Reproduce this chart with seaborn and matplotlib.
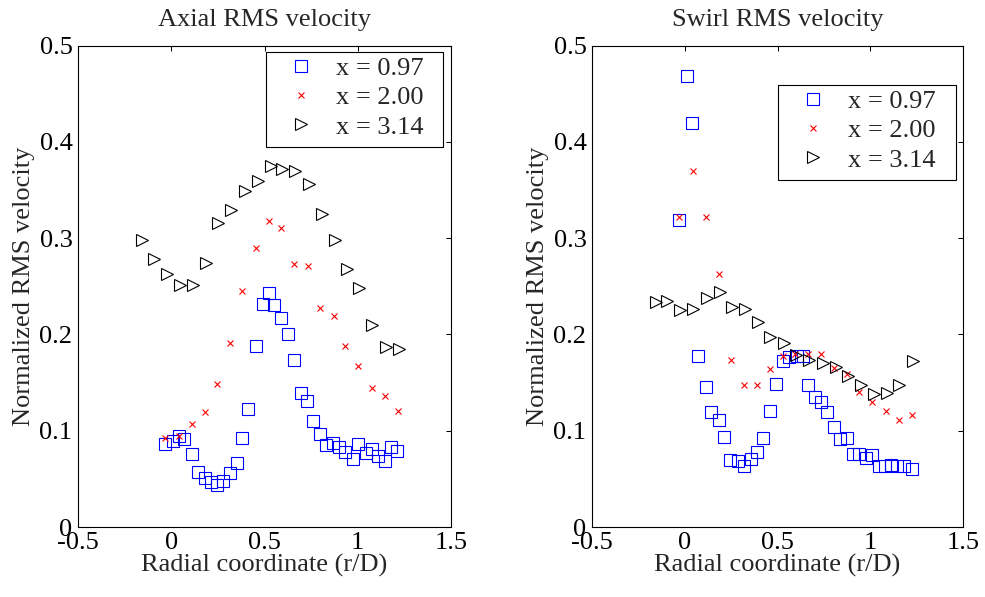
import matplotlib
matplotlib.use("Agg")
import matplotlib.pyplot as plt
import seaborn as sns
from matplotlib.lines import Line2D
from matplotlib.patches import Rectangle

# ---------------- data ----------------
labels = ["x = 0.97", "x = 2.00", "x = 3.14"]
titles = ["Axial RMS velocity", "Swirl RMS velocity"]
xlabel = "Radial coordinate (r/D)"
ylabel = "Normalized RMS velocity"
xticks = [-0.5, 0, 0.5, 1, 1.5]
xticklabels = ["-0.5", "0", "0.5", "1", "1.5"]
yticks = [0, 0.1, 0.2, 0.3, 0.4, 0.5]
yticklabels = ["0", "0.1", "0.2", "0.3", "0.4", "0.5"]

# Axial, x = 0.97
ax097_x = [-0.032, 0.007, 0.039, 0.071, 0.109, 0.141, 0.179, 0.211, 0.243, 0.280,
           0.313, 0.352, 0.382, 0.414, 0.454, 0.490, 0.525, 0.552, 0.588, 0.627,
           0.658, 0.697, 0.729, 0.760, 0.799, 0.829, 0.869, 0.901, 0.933, 0.972,
           1.004, 1.044, 1.074, 1.106, 1.144, 1.176, 1.213]
ax097_y = [0.086, 0.089, 0.095, 0.091, 0.076, 0.057, 0.051, 0.047, 0.044, 0.048,
           0.056, 0.067, 0.092, 0.123, 0.188, 0.232, 0.243, 0.231, 0.217, 0.200,
           0.173, 0.139, 0.131, 0.110, 0.097, 0.085, 0.087, 0.083, 0.078, 0.071,
           0.086, 0.077, 0.081, 0.074, 0.069, 0.083, 0.079]
# Axial, x = 2.00
ax200_x = [-0.032, 0.039, 0.109, 0.181, 0.243, 0.313, 0.382, 0.454, 0.525, 0.588,
           0.656, 0.731, 0.799, 0.870, 0.933, 1.003, 1.074, 1.144, 1.216]
ax200_y = [0.092, 0.095, 0.107, 0.119, 0.149, 0.191, 0.245, 0.290, 0.318, 0.311,
           0.273, 0.271, 0.228, 0.219, 0.188, 0.167, 0.144, 0.136, 0.120]
# Axial, x = 3.14
ax314_x = [-0.157, -0.095, -0.023, 0.047, 0.114, 0.189, 0.250, 0.322, 0.393, 0.463,
           0.535, 0.595, 0.665, 0.736, 0.808, 0.879, 0.940, 1.008, 1.079, 1.151, 1.223]
ax314_y = [0.298, 0.278, 0.263, 0.251, 0.251, 0.274, 0.316, 0.329, 0.349, 0.359,
           0.375, 0.372, 0.370, 0.356, 0.325, 0.298, 0.268, 0.248, 0.210, 0.187, 0.185]

# Swirl, x = 0.97
sw097_x = [-0.031, 0.011, 0.041, 0.073, 0.113, 0.143, 0.183, 0.213, 0.246, 0.285,
           0.318, 0.357, 0.388, 0.420, 0.460, 0.492, 0.531, 0.564, 0.604, 0.636,
           0.666, 0.704, 0.735, 0.767, 0.806, 0.837, 0.876, 0.909, 0.939, 0.975,
           1.011, 1.049, 1.080, 1.112, 1.143, 1.182, 1.225]
sw097_y = [0.319, 0.469, 0.420, 0.178, 0.145, 0.119, 0.111, 0.093, 0.070, 0.069,
           0.063, 0.071, 0.078, 0.092, 0.120, 0.149, 0.172, 0.177, 0.178, 0.178,
           0.148, 0.135, 0.130, 0.119, 0.104, 0.091, 0.092, 0.076, 0.076, 0.072,
           0.075, 0.063, 0.063, 0.064, 0.063, 0.063, 0.060]
# Swirl, x = 2.00
sw200_x = [-0.031, 0.043, 0.113, 0.185, 0.248, 0.317, 0.388, 0.460, 0.528, 0.594,
           0.666, 0.735, 0.806, 0.873, 0.939, 1.011, 1.083, 1.155, 1.225]
sw200_y = [0.322, 0.370, 0.322, 0.263, 0.174, 0.147, 0.148, 0.164, 0.178, 0.180,
           0.180, 0.180, 0.165, 0.159, 0.140, 0.130, 0.121, 0.111, 0.116]
# Swirl, x = 3.14
sw314_x = [-0.157, -0.096, -0.024, 0.046, 0.118, 0.190, 0.253, 0.323, 0.396, 0.462,
           0.537, 0.600, 0.671, 0.744, 0.815, 0.882, 0.949, 1.020, 1.089, 1.157, 1.229]
sw314_y = [0.234, 0.235, 0.225, 0.226, 0.238, 0.244, 0.229, 0.226, 0.213, 0.197,
           0.191, 0.179, 0.173, 0.170, 0.166, 0.157, 0.147, 0.138, 0.139, 0.147, 0.172]

# ---------------- style ----------------
sns.set_style("white")
plt.rcParams["font.family"] = ["Liberation Serif", "DejaVu Serif"]
FS = 19

styles = [
    dict(marker="s", ms=8.3, mfc="none", mec="#0000ff", mew=0.8, color="#0000ff"),
    dict(marker="x", ms=5.0, mfc="none", mec="#ff0000", mew=0.8, color="#ff0000"),
    dict(marker=">", ms=9.0, mfc="none", mec="#000000", mew=0.8, color="#000000"),
]

fig = plt.figure(figsize=(9.85, 5.97), dpi=100)
W, H = 985, 597
axes_px = [(78, 373), (592, 371)]
ax_top, ax_bot = 45.7, 527
legend_boxes = [(266, 443, 52, 147), (778.3, 955.7, 85, 180)]

series = [
    [(ax097_x, ax097_y), (ax200_x, ax200_y), (ax314_x, ax314_y)],
    [(sw097_x, sw097_y), (sw200_x, sw200_y), (sw314_x, sw314_y)],
]

for i, (left, width) in enumerate(axes_px):
    ax = fig.add_axes([left / W, (H - ax_bot) / H, width / W, (ax_bot - ax_top) / H])
    for (xs, ys), st in zip(series[i], styles):
        sns.lineplot(x=xs, y=ys, ax=ax, estimator=None, sort=False,
                     linestyle="", **st)
    ax.set_xlim(-0.5, 1.5)
    ax.set_ylim(0, 0.5)
    ax.set_xticks(xticks, xticklabels)
    ax.set_yticks(yticks, yticklabels)
    ax.tick_params(direction="in", top=True, right=True, length=3.5, width=0.75,
                   labelsize=FS, colors="black")
    ax.tick_params(axis="x", pad=3.3)
    ax.tick_params(axis="y", pad=4)
    for sp in ax.spines.values():
        sp.set_visible(True)
        sp.set_color("black")
        sp.set_linewidth(0.8)
    ax.set_title(titles[i], fontsize=FS, pad=14.5)
    ax.set_xlabel(xlabel, fontsize=FS)
    ax.set_ylabel(ylabel, fontsize=FS)
    ax.xaxis.set_label_coords(0.5, (ax_bot - 554) / (ax_bot - ax_top))
    ax.yaxis.set_label_coords(-43 / width, 0.5)

    # legend
    bl, br, bt, bb = legend_boxes[i]
    fx0 = (bl - left) / width
    fx1 = (br - left) / width
    fy0 = (ax_bot - bb) / (ax_bot - ax_top)
    fy1 = (ax_bot - bt) / (ax_bot - ax_top)
    handles = [Line2D([], [], linestyle="", **st) for st in styles]
    ax.legend(handles, labels, loc="upper left", bbox_to_anchor=(fx0, fy1),
              borderaxespad=0, frameon=False, fontsize=FS, borderpad=0.17,
              handlelength=2.3, handletextpad=0.17, labelspacing=0.22)
    ax.add_patch(Rectangle((fx0, fy0), fx1 - fx0, fy1 - fy0, transform=ax.transAxes,
                           fill=False, edgecolor="black", linewidth=0.8, zorder=5))

fig.savefig("out.png", dpi=100)
